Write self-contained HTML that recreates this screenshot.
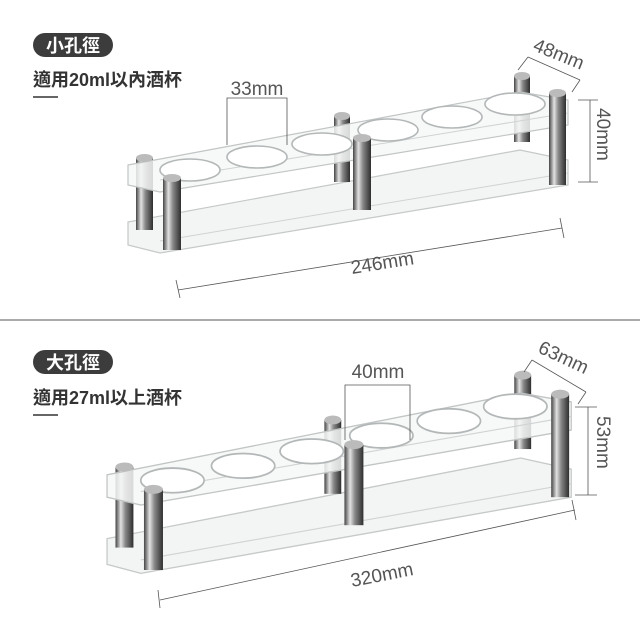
<!DOCTYPE html>
<html><head><meta charset="utf-8"><style>
html,body{margin:0;padding:0;background:#fff;}
svg{display:block;}
</style></head><body>
<svg width="640" height="640" viewBox="0 0 640 640" xmlns="http://www.w3.org/2000/svg" font-family="Liberation Sans, Noto Sans CJK TC, sans-serif">
<defs>
<linearGradient id="rod" x1="0" x2="1" y1="0" y2="0">
<stop offset="0" stop-color="#444"/><stop offset="0.3" stop-color="#e2e2e2"/><stop offset="0.55" stop-color="#888"/><stop offset="1" stop-color="#2e2e2e"/>
</linearGradient>
<g id="prod">
  <polygon points="128,222 520,150 568,160 568,185 160,253 128,245" fill="#f3f4f4" stroke="#c6c9c9" stroke-width="1.2"/>
  <line x1="160" y1="241" x2="568" y2="173" stroke="#d0d3d3"/>
  <rect x="136" y="158" width="17" height="72" fill="url(#rod)"/>
  <rect x="334" y="116" width="16" height="66" fill="url(#rod)"/>
  <rect x="514" y="76" width="16" height="66" fill="url(#rod)"/>
  <polygon points="128,165 520,92 568,100 568,125 160,192 128,185" fill="#f6f7f7" fill-opacity="0.85" stroke="#c2c5c5" stroke-width="1.2"/>
  <line x1="160" y1="180" x2="568" y2="113" stroke="#d0d3d3"/>
  <g fill="#fff" stroke="#b3b7b7" stroke-width="1.6">
    <ellipse cx="190" cy="170" rx="30" ry="11"/>
    <ellipse cx="257" cy="157" rx="30" ry="11"/>
    <ellipse cx="322" cy="144" rx="30" ry="11"/>
    <ellipse cx="388" cy="130" rx="30" ry="11"/>
    <ellipse cx="452" cy="117" rx="30" ry="11"/>
    <ellipse cx="515" cy="104" rx="30" ry="11"/>
  </g>
  <rect x="163" y="178" width="18" height="72" fill="url(#rod)"/>
  <ellipse cx="172" cy="178" rx="9" ry="4" fill="#bbb"/>
  <rect x="353" y="138" width="18" height="72" fill="url(#rod)"/>
  <ellipse cx="362" cy="138" rx="9" ry="4" fill="#bbb"/>
  <rect x="549" y="93" width="17" height="92" fill="url(#rod)"/>
  <ellipse cx="557.5" cy="93" rx="8.5" ry="4" fill="#bbb"/>
  <ellipse cx="144.5" cy="158" rx="8.5" ry="4" fill="#bbb"/>
  <ellipse cx="342" cy="116" rx="8" ry="4" fill="#bbb"/>
  <ellipse cx="522" cy="76" rx="8" ry="4" fill="#bbb"/>
</g>
</defs>

<rect x="33" y="33" width="80" height="24" rx="12" fill="#3c3c3c"/>
<text x="73" y="52" font-size="18" fill="#fff" text-anchor="middle" font-weight="bold">小孔徑</text>
<text x="33" y="86" font-size="18" fill="#333" font-weight="bold">適用20ml以內酒杯</text>
<line x1="33" y1="97" x2="58" y2="97" stroke="#333" stroke-width="1.5"/>

<use href="#prod"/>

<g stroke="#555" stroke-width="0.8" fill="none">
  <path d="M227,145 V98 H287 V145"/>
  <path d="M518,70 L528,57 M528,57 L580,80 M580,80 L572,92"/>
  <path d="M578,100 H598 M590,100 V182 M578,182 H598"/>
  <path d="M176,280 L180,298 M178,290 L562,228 M560,218 L564,238"/>
</g>
<g fill="#555" font-size="19">
  <text x="257" y="95" text-anchor="middle">33mm</text>
  <text x="0" y="0" transform="translate(532,50) rotate(22)">48mm</text>
  <text x="0" y="0" transform="translate(597,108) rotate(90)">40mm</text>
  <text x="0" y="0" transform="translate(352,274) rotate(-9)">246mm</text>
</g>

<rect x="0" y="319" width="640" height="2" fill="#aaa"/>

<rect x="33" y="350" width="80" height="24" rx="12" fill="#3c3c3c"/>
<text x="73" y="369" font-size="18" fill="#fff" text-anchor="middle" font-weight="bold">大孔徑</text>
<text x="33" y="404" font-size="18" fill="#333" font-weight="bold">適用27ml以上酒杯</text>
<line x1="33" y1="415" x2="58" y2="415" stroke="#333" stroke-width="1.5"/>

<use href="#prod" transform="translate(-28,290) scale(1.055,1.12)"/>

<g stroke="#555" stroke-width="0.8" fill="none">
  <path d="M345,440 V385 H410 V440"/>
  <path d="M524,372 L532,360 M532,360 L586,392 M586,392 L578,404"/>
  <path d="M575,407 H597 M588,407 V495 M575,495 H597"/>
  <path d="M158,590 L160,608 M160,600 L575,510 M572,500 L576,520"/>
</g>
<g fill="#555" font-size="19">
  <text x="378" y="378" text-anchor="middle">40mm</text>
  <text x="0" y="0" transform="translate(537,352) rotate(25)">63mm</text>
  <text x="0" y="0" transform="translate(597,416) rotate(90)">53mm</text>
  <text x="0" y="0" transform="translate(352,587) rotate(-11)">320mm</text>
</g>
</svg>
</body></html>
